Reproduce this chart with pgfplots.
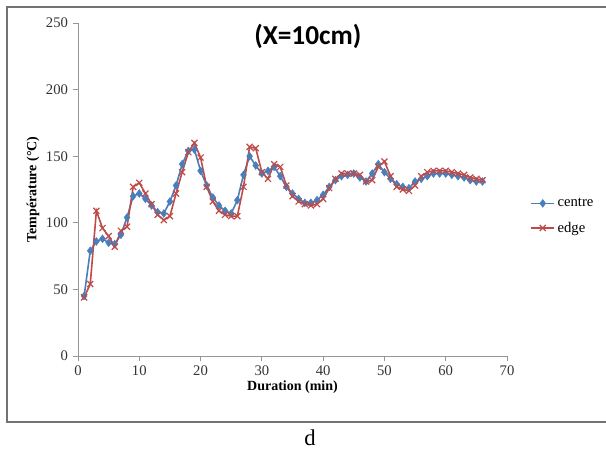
\documentclass[border=0pt]{standalone}
\usepackage{fontspec}
\setmainfont{Liberation Serif}
\newfontfamily\titlefont{Carlito}
\usepackage{pgfplots}
\pgfplotsset{compat=1.18}
\usepackage{pgfplotstable}
\definecolor{cblue}{RGB}{74,126,187}
\definecolor{cred}{RGB}{190,75,72}
\definecolor{axgrey}{RGB}{150,150,150}
\pgfplotstableread{
x centre edge
1 45 44
2 79 54
3 86 109
4 88 96
5 85 90
6 84 82
7 91 94
8 104 97
9 120 127
10 122 130
11 118 122
12 113 114
13 108 106
14 107 102
15 116 105
16 128 122
17 144 138
18 154 153
19 155 160
20 139 149
21 128 127
22 119 116
23 113 109
24 109 106
25 107 105
26 117 105
27 136 127
28 150 157
29 143 156
30 137 138
31 139 133
32 142 144
33 135 142
34 127 128
35 122 120
36 118 116
37 115 114
38 115 113
39 117 114
40 121 118
41 127 126
42 132 133
43 135 137
44 136 137
45 137 137
46 134 136
47 131 131
48 137 132
49 144 142
50 138 146
51 133 135
52 129 127
53 127 125
54 126 124
55 131 128
56 133 135
57 135 138
58 137 139
59 137 139
60 137 139
61 136 138
62 135 137
63 134 136
64 132 134
65 131 133
66 131 132
}\datatable
\begin{document}
\begin{tikzpicture}
\useasboundingbox (0pt,0pt) rectangle (454.5pt,337.5pt);
\draw[line width=1.2pt, color=black!55] (5.25pt,21pt) rectangle (456pt,332.25pt);
\node[font=\fontsize{17}{20}\selectfont] at (232.5pt,9pt) {d};
\begin{axis}[
  at={(58.5pt,70.5pt)}, anchor=origin,
  scale only axis,
  width=321.75pt, height=249.75pt,
  xmin=0, xmax=70, ymin=0, ymax=250,
  xtick={0,10,...,70}, ytick={0,50,...,250},
  axis x line*=bottom, axis y line*=left,
  axis line style={draw=axgrey, line width=0.6pt},
  tick style={draw=axgrey, line width=0.6pt},
  tick align=outside,
  major tick length=4pt,
  x axis line style={-}, y axis line style={-},
  /pgf/number format/assume math mode=true,
  ticklabel style={font=\fontsize{11}{13}\selectfont, text=black!80},
  xlabel={\textbf{Duration (min)}},
  ylabel={\textbf{Température (°C)}},
  label style={font=\fontsize{10.5}{12}\selectfont},
  xlabel style={yshift=3pt},
  ylabel style={yshift=-2pt},
  legend style={at={(1.045,0.42)}, anchor=west, draw=none, fill=none,
    font=\fontsize{11}{13}\selectfont, row sep=6pt},
  legend cell align=left,
  clip=false,
]
\addplot[color=cblue, line width=1.2pt, mark=diamond*, mark size=2.9pt, mark options={fill=cblue, draw=cblue, line width=0.4pt}] table[x=x,y=centre] {\datatable};
\addlegendentry{centre}
\addplot[color=cred, line width=1.2pt, mark=x, mark size=3.2pt, mark options={draw=cred, line width=0.9pt}] table[x=x,y=edge] {\datatable};
\addlegendentry{edge}
\node[font=\titlefont\bfseries\fontsize{20.5}{24}\selectfont, anchor=center] at (axis cs:37.5,240) {(X=10cm)};
\end{axis}
\end{tikzpicture}
\end{document}
